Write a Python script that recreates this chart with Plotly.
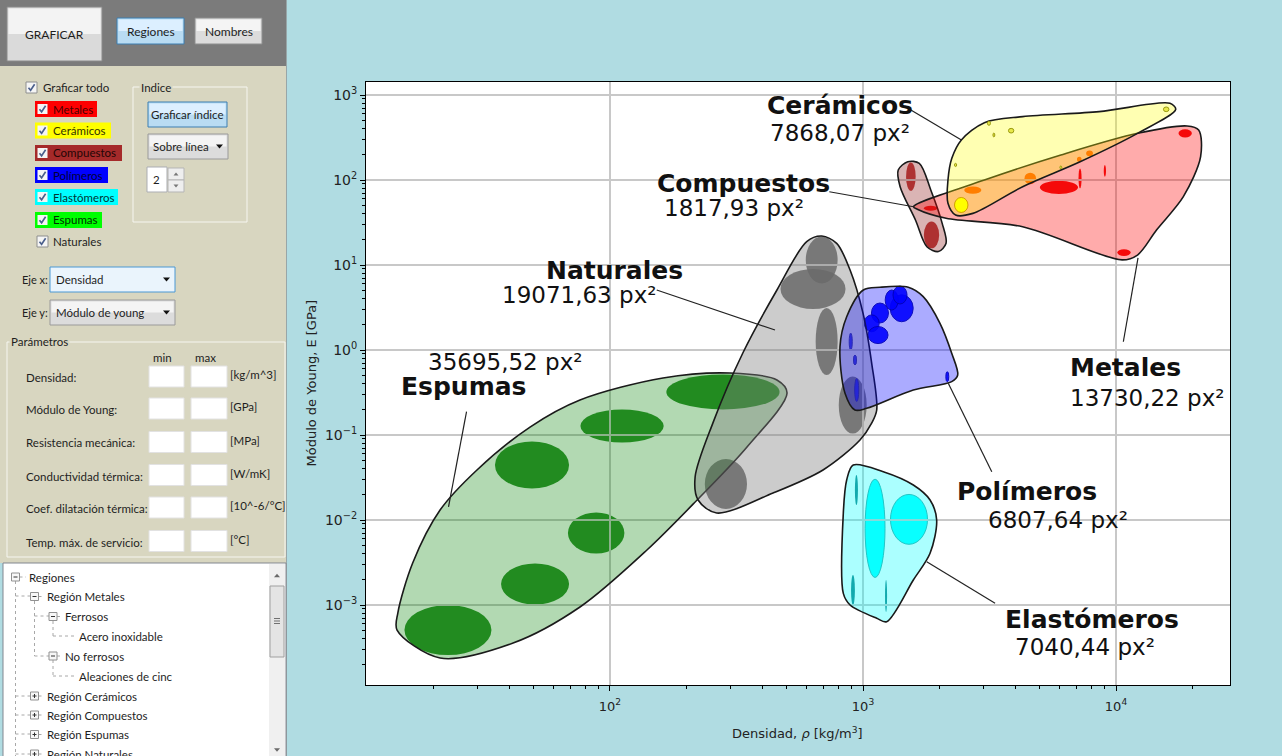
import numpy as np
import plotly.graph_objects as go

W, H = 1282, 756

# ---------------- material regions: outline vertices ----------------
# density rho [kg/m^3], Young's modulus E [GPa]
ESP_RHO = [14.4, 21.3, 41.4, 76.1, 140, 221, 348, 501, 457, 298, 162, 76.1, 48.3, 29.8, 21.3, 16.6, 14.5]
ESP_E = [5.08e-4, 2.38e-4, 3.57e-4, 9.47e-4, 4.44e-3, 0.0172, 0.0722, 0.312, 0.444, 0.536,
         0.469, 0.258, 0.124, 0.0388, 0.0131, 3.12e-3, 8.05e-4]

NAT_RHO = [687, 787, 889, 1000, 1082, 1133, 1082, 973, 695, 441, 264, 223, 217, 255, 335, 457, 599]
NAT_E = [21.9, 18.0, 8.73, 2.72, 0.703, 0.197, 0.138, 0.0873, 0.0388, 0.0208, 0.0121, 0.0172,
         0.0321, 0.138, 0.922, 5.08, 18.8]

POL_RHO = [1003, 1167, 1510, 1730, 2015, 2242, 2368, 2242, 1581, 1034, 929, 849, 811, 862]
POL_E = [5.08, 5.47, 5.47, 4.24, 2.06, 0.915, 0.508, 0.424, 0.338, 0.206, 0.197, 0.31, 1.09, 2.46]

ELA_RHO = [915, 1203, 1581, 1841, 1955, 1841, 1581, 1240, 1133, 889, 836, 836, 862]
ELA_E = [0.0444, 0.037, 0.0258, 0.0172, 0.01, 4.06e-3, 1.97e-3, 6.37e-4, 6.98e-4, 1.0e-3,
         1.37e-3, 0.012, 0.0296]

COM_RHO = [1503, 1669, 1853, 2056, 2130, 1986, 1789, 1612, 1402, 1378]
COM_E = [164, 157, 76.3, 30.9, 18, 14.4, 16.4, 33.8, 83.5, 131]

MET_RHO = [1584, 3018, 6056, 12160, 19100, 21220, 21600, 18460, 14460, 12160, 10570, 4275, 2130, 1640]
MET_E = [48.6, 100, 197, 354, 432, 387, 188, 63.7, 25.8, 13.1, 11.5, 28.2, 35.4, 45.2]

CER_RHO = [2448, 3018, 4275, 8576, 16340, 17220, 12160, 7210, 4275, 2718, 2323, 2167, 2167, 2244]
CER_E = [296, 473, 556, 637, 798, 678, 354, 164, 83.5, 40.5, 38.7, 53.2, 100, 180]

# ---------------- material families: (min, max) bounds ----------------
ESP_ELL_RHO = [(15.4, 34.0), (37.1, 68.9), (68.2, 114), (35.1, 68.9), (76.4, 163), (167, 468)]
ESP_ELL_E = [(2.58e-4, 1.0e-3), (1.01e-3, 3.08e-3), (4.04e-3, 0.01225), (0.0235, 0.0839),
             (0.0816, 0.2), (0.2, 0.515)]

NAT_ELL_RHO = [(594, 794), (472, 853), (650, 794), (802, 1034), (237, 348)]
NAT_ELL_E = [(6.06, 21.6), (3.04, 8.97), (0.508, 3.12), (0.104, 0.488), (0.0135, 0.0522)]

POL_ELL_RHO = [(1281, 1579), (1224, 1378), (1080, 1261), (1011, 1159), (1047, 1256), (1314, 1493),
               (882, 907), (917, 943), (927, 962), (2125, 2183)]
POL_ELL_E = [(2.15, 4.46), (2.95, 5.08), (2.08, 3.57), (1.64, 2.59), (1.19, 1.89), (3.48, 5.66),
             (0.995, 1.58), (0.666, 0.873), (0.248, 0.462), (0.424, 0.556)]

ELA_ELL_RHO = [(1019, 1222), (1284, 1799)]
ELA_ELL_E = [(2.11e-3, 0.0302), (5.18e-3, 0.02)]
ELA_STREAK_RHO = [(929, 955), (897, 929), (1222, 1245)]
ELA_STREAK_E = [(0.015, 0.0338), (1.0e-3, 2.25e-3), (8.27e-4, 1.97e-3)]

COM_ELL_RHO = [(1480, 1615), (1740, 2000)]
COM_ELL_E = [(74.6, 161), (15.7, 32.4)]

MET_ELL_RHO = [(5000, 7080), (17660, 19950), (10120, 11430), (1742, 1968), (7110, 7310), (8946, 9130)]
MET_ELL_E = [(68.4, 98.2), (316, 396), (12.8, 15.3), (43.4, 49.7), (79.8, 137), (109, 150)]
MET_ALLOY_RHO = [(2512, 2938), (4348, 4830), (7620, 8110), (7010, 7310)]
MET_ALLOY_E = [(69.0, 84.1), (89.3, 122), (190, 223), (163, 188)]

CER_ELL_RHO = [(2300, 2600), (15400, 16190), (3758, 3946), (3103, 3190), (3263, 3319), (2300, 2345), (5998, 6105)]
CER_ELL_E = [(41.5, 62.3), (637, 723), (357, 405), (440, 490), (321, 357), (144, 157), (136, 146)]

# ---------------- region names, areas and label anchors ----------------
NAMES = ['Cerámicos', 'Compuestos', 'Naturales', 'Espumas', 'Metales', 'Polímeros', 'Elastómeros']
AREAS = ['7868,07 px²', '1817,93 px²', '19071,63 px²', '35695,52 px²', '13730,22 px²',
         '6807,64 px²', '7040,44 px²']
NAME_AT = [(813, 762), (336, 91.4), (104, 8.73), (26.4, 0.377), (10940, 0.625), (4457, 0.0215), (8017, 6.67e-4)]
AREA_AT = [(811, 354), (308, 46.5), (76.0, 4.44), (38.7, 0.728), (13370, 0.270), (5888, 0.01), (7534, 3.23e-4)]
LEADER_FROM = [(1505, 698), (736, 72.8), (153, 5.08), (27.1, 0.188), (12220, 12.1), (2173, 0.406), (1786, 3.23e-3)]
LEADER_TO = [(2449, 296), (1585, 48.5), (449, 1.72), (23.0, 0.0143), (10690, 1.25), (3228, 0.037), (3327, 1.05e-3)]

X_TICKS = [100, 1000, 10000]
X_TICK_TEXT = ['10<sup>2</sup>', '10<sup>3</sup>', '10<sup>4</sup>']
Y_TICKS = [1e-3, 1e-2, 1e-1, 1, 10, 100, 1000]
Y_TICK_TEXT = ['10<sup>−3</sup>', '10<sup>−2</sup>', '10<sup>−1</sup>', '10<sup>0</sup>',
               '10<sup>1</sup>', '10<sup>2</sup>', '10<sup>3</sup>']

UI_FONT = 'Lato'
PANEL = '#d8d6c0'
BG = '#b0dce2'
INK = '#1e1e1e'

fig = go.Figure()

# ---------------- region polygons (drawn bottom to top) ----------------
regions = [
    (ESP_RHO, ESP_E, 'rgba(0,128,0,0.30)'),
    (NAT_RHO, NAT_E, 'rgba(128,128,128,0.40)'),
    (POL_RHO, POL_E, 'rgba(0,0,255,0.33)'),
    (ELA_RHO, ELA_E, 'rgba(0,255,255,0.33)'),
    (COM_RHO, COM_E, 'rgba(150,40,40,0.35)'),
    (MET_RHO, MET_E, 'rgba(255,0,0,0.33)'),
    (CER_RHO, CER_E, 'rgba(255,255,0,0.30)'),
]
for rho, e, fill in regions:
    fig.add_trace(go.Scatter(
        x=list(rho) + [rho[0]], y=list(e) + [e[0]], mode='lines', fill='toself',
        fillcolor=fill, line=dict(color='#1a1a1a', width=1.6, shape='spline', smoothing=0.9),
        hoverinfo='skip', showlegend=False))

shapes = []
annotations = []


def families(rho_b, e_b, color, opacity=1.0, edge=None, layer='below'):
    for (r0, r1), (e0, e1) in zip(rho_b, e_b):
        shapes.append(dict(type='circle', xref='x', yref='y', x0=r0, x1=r1, y0=e0, y1=e1,
                           fillcolor=color, opacity=opacity, layer=layer,
                           line=dict(color=edge if edge else color, width=1 if edge else 0)))


families(ESP_ELL_RHO, ESP_ELL_E, '#31902f')
families(NAT_ELL_RHO, NAT_ELL_E, '#5c5c5c', opacity=0.85)
families(POL_ELL_RHO, POL_ELL_E, '#0000ff', opacity=0.9, edge='#000090')
families(ELA_ELL_RHO, ELA_ELL_E, '#00ffff', opacity=0.95, edge='#2aa6a6')
families(ELA_STREAK_RHO, ELA_STREAK_E, '#1b7f86')
families(COM_ELL_RHO, COM_ELL_E, '#bc3737')
families(MET_ELL_RHO, MET_ELL_E, '#f01010')
families(MET_ALLOY_RHO, MET_ALLOY_E, '#ff6a00')
families(CER_ELL_RHO[:1], CER_ELL_E[:1], '#ffff00', edge='#d2a000', layer='above')
families(CER_ELL_RHO[1:], CER_ELL_E[1:], '#e8e84a', edge='#9a9a10', layer='above')

# ---------------- region labels with leader lines ----------------
for i, name in enumerate(NAMES):
    (a0, b0), (a1, b1) = LEADER_FROM[i], LEADER_TO[i]
    shapes.append(dict(type='line', xref='x', yref='y', x0=a0, y0=b0, x1=a1, y1=b1,
                       line=dict(color='#222222', width=1.2), layer='above'))
    annotations.append(dict(xref='x', yref='y', x=np.log10(NAME_AT[i][0]), y=np.log10(NAME_AT[i][1]),
                            text='<b>%s</b>' % name, showarrow=False, xanchor='center', yanchor='middle',
                            font=dict(family='DejaVu Sans', size=25, color='#111111')))
    annotations.append(dict(xref='x', yref='y', x=np.log10(AREA_AT[i][0]), y=np.log10(AREA_AT[i][1]),
                            text=AREAS[i], showarrow=False, xanchor='center', yanchor='middle',
                            font=dict(family='DejaVu Sans', size=23, color='#111111')))


# ---------------- side control panel ----------------
def X(x):
    return x / W


def Y(y):
    return 1 - y / H


def rect(x0, y0, x1, y1, fill, line=None, lw=1):
    shapes.append(dict(type='rect', xref='paper', yref='paper',
                       x0=X(x0), x1=X(x1), y0=Y(y1), y1=Y(y0), fillcolor=fill,
                       line=dict(color=line if line else 'rgba(0,0,0,0)', width=lw if line else 0),
                       layer='above'))


def seg(x0, y0, x1, y1, color, lw=1, dash='solid'):
    shapes.append(dict(type='line', xref='paper', yref='paper', x0=X(x0), x1=X(x1),
                       y0=Y(y0), y1=Y(y1), line=dict(color=color, width=lw, dash=dash),
                       layer='above'))


def poly(points, fill=None, line=None, lw=1, closed=True):
    path = 'M ' + ' L '.join('%.5f,%.5f' % (X(px), Y(py)) for px, py in points)
    if closed:
        path += ' Z'
    shapes.append(dict(type='path', xref='paper', yref='paper', path=path,
                       fillcolor=fill if fill else 'rgba(0,0,0,0)',
                       line=dict(color=line if line else 'rgba(0,0,0,0)', width=lw if line else 0),
                       layer='above'))


def tri(cx, cy, w, h, up, color):
    if up:
        pts = [(cx - w / 2, cy + h / 2), (cx + w / 2, cy + h / 2), (cx, cy - h / 2)]
    else:
        pts = [(cx - w / 2, cy - h / 2), (cx + w / 2, cy - h / 2), (cx, cy + h / 2)]
    poly(pts, fill=color)


def text(x, y, s, size=11.5, color=INK, anchor='left', family=UI_FONT, bg=None, angle=0):
    a = dict(xref='paper', yref='paper', x=X(x), y=Y(y), text=s, showarrow=False,
             xanchor=anchor, yanchor='middle', textangle=angle,
             font=dict(family=family, size=size, color=color))
    if bg:
        a['bgcolor'] = bg
    annotations.append(a)


def button(x0, y0, x1, y1, top, bottom, border):
    rect(x0, y0, x1, y1, bottom, border)
    rect(x0 + 1.5, y0 + 1.5, x1 - 1.5, (y0 + y1) / 2, top)


def checkbox(x, y, border='#8e8f8f'):
    rect(x, y - 5.5, x + 11, y + 5.5, '#f5f5f5', border)
    poly([(x + 2.5, y + 0.2), (x + 4.6, y + 2.8), (x + 8.6, y - 3.2)], line='#4a5f8c', lw=1.6, closed=False)


rect(0, 0, 287, 66, '#7b7b7b')
rect(0, 66, 287, 563, PANEL)
seg(286.5, 0, 286.5, 756, '#98a6a8')

button(7, 7, 102, 61, '#f3f3f3', '#dadada', '#8a8a8a')
text(54.5, 34, 'GRAFICAR', 12, anchor='center')
button(117, 18, 184, 44, '#dcefff', '#b9dcf3', '#3c7fb1')
text(150.5, 31, 'Regiones', 12, anchor='center')
button(195, 18, 262, 44, '#f4f4f4', '#dcdcdc', '#8e8f8f')
text(228.5, 31, 'Nombres', 12, anchor='center')

checkbox(26, 87.5)
text(41, 87.5, 'Graficar todo')
CHECKS = [('Metales', 109, 97, '#ff0000', '#4a0000'),
          ('Cerámicos', 130.5, 111, '#ffff00', '#333300'),
          ('Compuestos', 153, 122, '#a52a2a', '#240606'),
          ('Polímeros', 175, 108, '#0000ff', '#00003a'),
          ('Elastómeros', 197, 118, '#00ffff', '#003636'),
          ('Espumas', 220, 102, '#00ff00', '#002e00')]
for name, y, x1, col, tcol in CHECKS:
    rect(35, y - 8, x1, y + 8, col)
    checkbox(37, y, col)
    text(51, y, name, color=tcol)
checkbox(37, 241.5)
text(51, 241.5, 'Naturales')

rect(133, 87, 247, 222, 'rgba(0,0,0,0)', '#f6f6f0')
text(139, 87, 'Indice', bg=PANEL)
button(148, 102, 227, 127, '#dcefff', '#b9dcf3', '#3c7fb1')
text(187.5, 114.5, 'Graficar índice', anchor='center')
button(148, 134, 228, 159, '#f4f4f4', '#dcdcdc', '#9a9a9a')
text(151, 146.5, 'Sobre línea')
tri(219.5, 146.5, 7, 4, False, '#111111')
rect(147, 167, 167, 192, '#ffffff', '#abadb3')
text(151, 179.5, '2')
rect(168, 168, 184, 180, '#eeeeee', '#b5b5b5')
rect(168, 180, 184, 192, '#eeeeee', '#b5b5b5')
tri(176, 174, 5, 3, True, '#777777')
tri(176, 186, 5, 3, False, '#777777')

text(20, 279.5, 'Eje x:', 11)
rect(50, 267, 175, 292, '#eaf4fc', '#4a98d4')
text(54, 279.5, 'Densidad')
tri(166.5, 279.5, 7, 4, False, '#111111')
text(20, 312.5, 'Eje y:', 11)
button(50, 300, 175, 325, '#f4f4f4', '#dcdcdc', '#9a9a9a')
text(54, 312.5, 'Módulo de young')
tri(166.5, 312.5, 7, 4, False, '#111111')

rect(7, 342, 285, 557, 'rgba(0,0,0,0)', '#f6f6f0')
text(9, 342, 'Parámetros', bg=PANEL)
text(162, 358, 'min', anchor='center')
text(205, 358, 'max', anchor='center')
PARAM_ROWS = [('Densidad:', 377.5, '[kg/m^3]'),
              ('Módulo de Young:', 409.5, '[GPa]'),
              ('Resistencia mecánica:', 443, '[MPa]'),
              ('Conductividad térmica:', 476, '[W/mK]'),
              ('Coef. dilatación térmica:', 508.5, '[10^-6/°C]'),
              ('Temp. máx. de servicio:', 542, '[°C]')]
for lab, y, unit in PARAM_ROWS:
    text(24, y, lab)
    rect(149, y - 11.5, 184, y + 9.5, '#ffffff', '#e2e2e2')
    rect(191, y - 11.5, 227, y + 9.5, '#ffffff', '#e2e2e2')
    text(228, y - 3, unit)

# tree view
rect(3, 563, 286, 757, '#ffffff', '#828790')
DOT = '#a8a8a8'
seg(15.5, 581, 15.5, 756, DOT, 1, 'dot')
for yy in (596, 696, 715, 734, 754):
    seg(15.5, yy, 30.5, yy, DOT, 1, 'dot')
seg(34.5, 601, 34.5, 656, DOT, 1, 'dot')
for yy in (616, 656):
    seg(34.5, yy, 49, yy, DOT, 1, 'dot')
seg(53, 621, 53, 636, DOT, 1, 'dot')
seg(53, 636, 74, 636, DOT, 1, 'dot')
seg(53, 660, 53, 676, DOT, 1, 'dot')
seg(53, 676, 74, 676, DOT, 1, 'dot')
TREE = [('Regiones', 27, 577, 15.5, False),
        ('Región Metales', 45, 596.5, 34.5, False),
        ('Ferrosos', 63, 616.5, 53, False),
        ('Acero inoxidable', 77, 636, None, None),
        ('No ferrosos', 63, 656, 53, False),
        ('Aleaciones de cinc', 77, 676, None, None),
        ('Región Cerámicos', 45, 696, 34.5, True),
        ('Región Compuestos', 45, 715, 34.5, True),
        ('Región Espumas', 45, 734.5, 34.5, True),
        ('Región Naturales', 45, 754, 34.5, True)]
for lab, tx, ty, cx, closed in TREE:
    if cx is not None:
        seg(cx + 4, ty, tx - 1, ty, DOT, 1, 'dot')
        rect(cx - 4, ty - 4, cx + 4, ty + 4, '#f7f7f7', '#919191')
        seg(cx - 2, ty, cx + 2, ty, '#333333', 1)
        if closed:
            seg(cx, ty - 2, cx, ty + 2, '#333333', 1)
    text(tx, ty, lab)
rect(269, 564, 285, 756, '#f0f0f0')
tri(277, 575.5, 6, 3.5, True, '#6a6a6a')
rect(270, 586, 284, 657, '#e4e4e4', '#a0a0a0')
for gy in (618.5, 621, 623.5):
    seg(274, gy, 280, gy, '#707070', 1)
tri(277, 750, 6, 3.5, False, '#6a6a6a')

# axis titles
text(798, 733, 'Densidad, <i>ρ</i> [kg/m<sup>3</sup>]', 13, '#222222', 'center', 'DejaVu Sans')
text(311, 383.5, 'Módulo de Young, E [GPa]', 13, '#222222', 'center', 'DejaVu Sans', angle=-90)

x_minor = [m * 10 ** k for k in range(1, 5) for m in range(2, 10) if m * 10 ** k < 28000]
y_minor = [m * 10.0 ** k for k in range(-4, 3) for m in range(2, 10)]

fig.update_xaxes(
    type='log', range=[1.0356, 4.4506], domain=[366 / W, 1230 / W],
    showline=True, linecolor='#000000', linewidth=1, mirror=True,
    ticks='outside', ticklen=5, tickcolor='#000000', tickwidth=1,
    tickvals=X_TICKS, ticktext=X_TICK_TEXT, ticklabelstandoff=4,
    tickfont=dict(family='DejaVu Sans', size=13, color='#222222'),
    showgrid=True, gridcolor='#c8c8c8', gridwidth=1.5, zeroline=False,
    minor=dict(tickvals=x_minor, ticks='outside', ticklen=3, tickcolor='#000000', showgrid=False))
fig.update_yaxes(
    type='log', range=[-3.941, 3.153], domain=[1 - 685 / H, 1 - 82 / H],
    showline=True, linecolor='#000000', linewidth=1, mirror=True,
    ticks='outside', ticklen=5, tickcolor='#000000', tickwidth=1,
    tickvals=Y_TICKS, ticktext=Y_TICK_TEXT,
    tickfont=dict(family='DejaVu Sans', size=14, color='#222222'),
    showgrid=True, gridcolor='#c8c8c8', gridwidth=1.5, zeroline=False,
    minor=dict(tickvals=y_minor, ticks='outside', ticklen=3, tickcolor='#000000', showgrid=False))

fig.update_layout(
    width=W, height=H, autosize=False, margin=dict(l=0, r=0, t=0, b=0),
    paper_bgcolor=BG, plot_bgcolor='#ffffff', showlegend=False,
    shapes=shapes, annotations=annotations)

fig.write_html('out.html')
